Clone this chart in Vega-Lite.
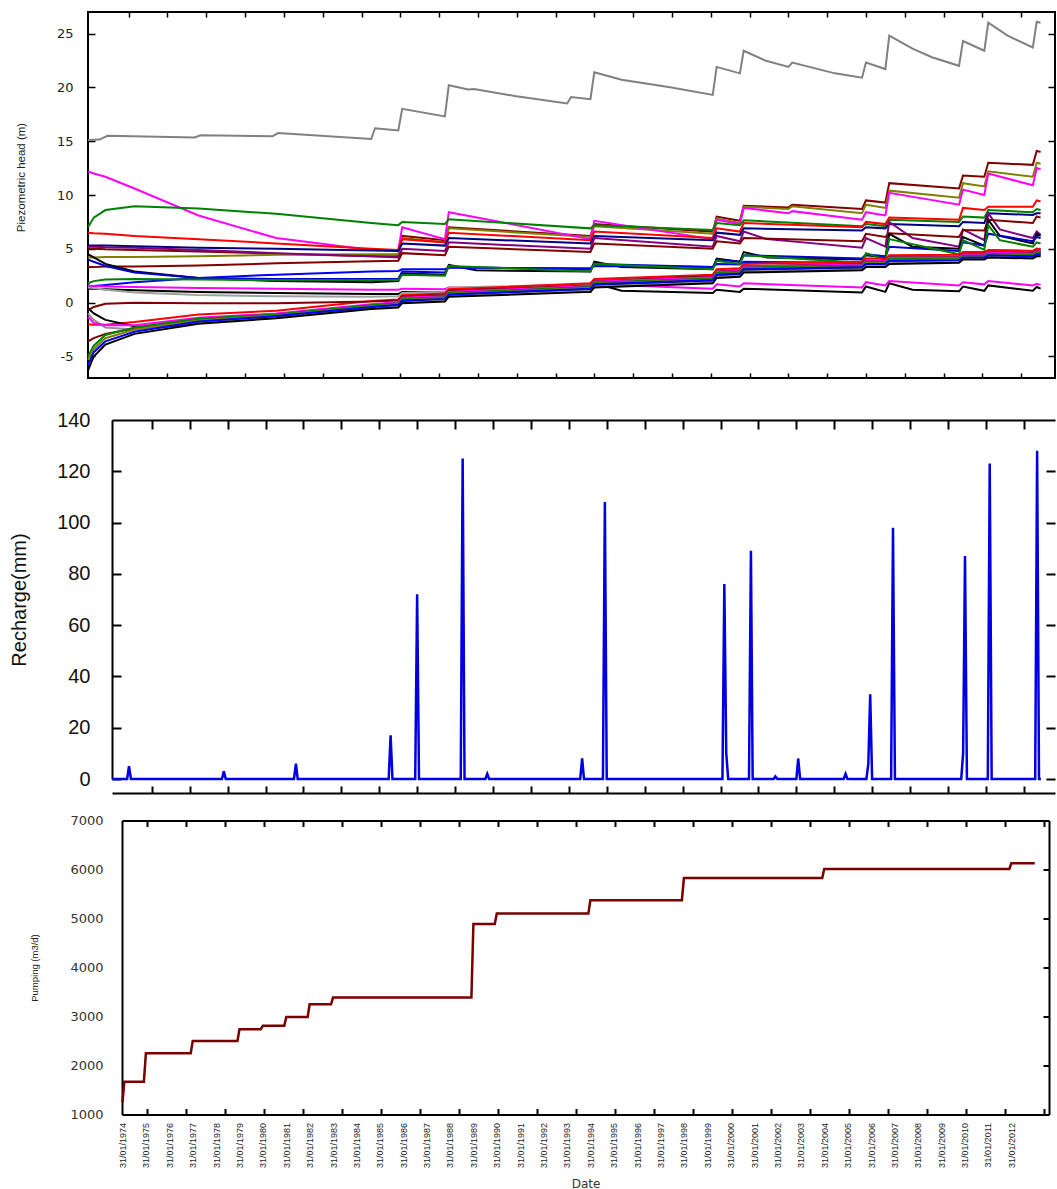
{
  "$schema": "https://vega.github.io/schema/vega-lite/v6.json",
  "background": "white",
  "padding": {"left": 9, "top": 11, "right": 0, "bottom": 0},
  "config": {
    "view": {"stroke": "#000", "strokeWidth": 2},
    "axis": {"domain": false, "ticks": false, "labelOverlap": false, "labelFlush": false}
  },
  "columns": 1,
  "spacing": 31,
  "concat": [
    {
      "width": 967,
      "height": 366,
      "data": {"values": [
        {"s":"G","d":"1974-01-01","v":15.1},{"s":"G","d":"1974-07-01","v":15.15},{"s":"G","d":"1974-11-01","v":15.5},{"s":"G","d":"1978-08-01","v":15.35},{"s":"G","d":"1978-11-01","v":15.55},{"s":"G","d":"1981-12-01","v":15.45},{"s":"G","d":"1982-03-01","v":15.75},{"s":"G","d":"1986-03-01","v":15.2},{"s":"G","d":"1986-05-01","v":16.2},{"s":"G","d":"1987-05-01","v":16.0},{"s":"G","d":"1987-07-01","v":18.0},{"s":"G","d":"1989-05-01","v":17.3},{"s":"G","d":"1989-07-01","v":20.2},{"s":"G","d":"1990-05-01","v":19.8},{"s":"G","d":"1990-08-01","v":19.85},{"s":"G","d":"1992-05-01","v":19.2},{"s":"G","d":"1994-08-01","v":18.5},{"s":"G","d":"1994-10-01","v":19.1},{"s":"G","d":"1995-08-01","v":18.9},{"s":"G","d":"1995-10-01","v":21.4},{"s":"G","d":"1996-12-01","v":20.7},{"s":"G","d":"1999-01-01","v":20.0},{"s":"G","d":"2000-11-01","v":19.3},{"s":"G","d":"2001-01-01","v":21.9},{"s":"G","d":"2002-01-01","v":21.3},{"s":"G","d":"2002-03-01","v":23.4},{"s":"G","d":"2003-02-01","v":22.5},{"s":"G","d":"2004-02-01","v":21.9},{"s":"G","d":"2004-04-01","v":22.3},{"s":"G","d":"2006-02-01","v":21.3},{"s":"G","d":"2007-04-01","v":20.9},{"s":"G","d":"2007-06-01","v":22.3},{"s":"G","d":"2008-04-01","v":21.7},{"s":"G","d":"2008-06-01","v":24.8},{"s":"G","d":"2009-06-01","v":23.6},{"s":"G","d":"2010-04-01","v":22.8},{"s":"G","d":"2011-06-01","v":22.0},{"s":"G","d":"2011-08-01","v":24.3},{"s":"G","d":"2012-07-01","v":23.4},{"s":"G","d":"2012-09-01","v":26.0},{"s":"G","d":"2013-07-01","v":24.8},{"s":"G","d":"2014-08-01","v":23.7},{"s":"G","d":"2014-10-01","v":26.1},{"s":"G","d":"2014-12-01","v":26.0},

        {"s":"DR1","d":"1974-01-01","v":5.0},{"s":"DR1","d":"1974-04-01","v":5.0},{"s":"DR1","d":"1974-10-01","v":4.95},{"s":"DR1","d":"1976-01-01","v":4.9},{"s":"DR1","d":"1978-10-01","v":4.75},{"s":"DR1","d":"1982-02-01","v":4.55},{"s":"DR1","d":"1986-03-01","v":4.3},{"s":"DR1","d":"1987-05-01","v":4.3},{"s":"DR1","d":"1987-07-01","v":6.2},{"s":"DR1","d":"1989-05-01","v":5.8},{"s":"DR1","d":"1989-07-01","v":7.0},{"s":"DR1","d":"1995-08-01","v":6.2},{"s":"DR1","d":"1995-10-01","v":7.3},{"s":"DR1","d":"2000-11-01","v":6.6},{"s":"DR1","d":"2001-01-01","v":8.0},{"s":"DR1","d":"2002-01-01","v":7.6},{"s":"DR1","d":"2002-03-01","v":9.0},{"s":"DR1","d":"2004-02-01","v":8.85},{"s":"DR1","d":"2004-04-01","v":9.1},{"s":"DR1","d":"2007-04-01","v":8.7},{"s":"DR1","d":"2007-06-01","v":9.5},{"s":"DR1","d":"2008-04-01","v":9.3},{"s":"DR1","d":"2008-06-01","v":11.1},{"s":"DR1","d":"2011-06-01","v":10.6},{"s":"DR1","d":"2011-08-01","v":11.8},{"s":"DR1","d":"2012-07-01","v":11.7},{"s":"DR1","d":"2012-09-01","v":13.0},{"s":"DR1","d":"2014-08-01","v":12.8},{"s":"DR1","d":"2014-10-01","v":14.1},{"s":"DR1","d":"2014-12-01","v":14.0},

        {"s":"OL","d":"1974-01-01","v":4.2},{"s":"OL","d":"1974-04-01","v":4.2},{"s":"OL","d":"1974-10-01","v":4.25},{"s":"OL","d":"1976-01-01","v":4.25},{"s":"OL","d":"1978-10-01","v":4.3},{"s":"OL","d":"1982-02-01","v":4.45},{"s":"OL","d":"1986-03-01","v":4.5},{"s":"OL","d":"1987-05-01","v":4.5},{"s":"OL","d":"1987-07-01","v":6.0},{"s":"OL","d":"1989-05-01","v":5.6},{"s":"OL","d":"1989-07-01","v":6.9},{"s":"OL","d":"1995-08-01","v":6.1},{"s":"OL","d":"1995-10-01","v":7.1},{"s":"OL","d":"2000-11-01","v":6.4},{"s":"OL","d":"2001-01-01","v":7.8},{"s":"OL","d":"2002-01-01","v":7.4},{"s":"OL","d":"2002-03-01","v":8.9},{"s":"OL","d":"2004-02-01","v":8.7},{"s":"OL","d":"2004-04-01","v":8.95},{"s":"OL","d":"2007-04-01","v":8.3},{"s":"OL","d":"2007-06-01","v":9.1},{"s":"OL","d":"2008-04-01","v":8.8},{"s":"OL","d":"2008-06-01","v":10.4},{"s":"OL","d":"2011-06-01","v":9.75},{"s":"OL","d":"2011-08-01","v":11.1},{"s":"OL","d":"2012-07-01","v":10.8},{"s":"OL","d":"2012-09-01","v":12.2},{"s":"OL","d":"2014-08-01","v":11.7},{"s":"OL","d":"2014-10-01","v":13.0},{"s":"OL","d":"2014-12-01","v":12.9},

        {"s":"MG","d":"1974-01-01","v":12.2},{"s":"MG","d":"1974-04-01","v":12.0},{"s":"MG","d":"1974-10-01","v":11.7},{"s":"MG","d":"1976-01-01","v":10.6},{"s":"MG","d":"1978-10-01","v":8.1},{"s":"MG","d":"1982-02-01","v":6.0},{"s":"MG","d":"1986-03-01","v":4.9},{"s":"MG","d":"1987-05-01","v":4.9},{"s":"MG","d":"1987-07-01","v":7.0},{"s":"MG","d":"1989-05-01","v":5.9},{"s":"MG","d":"1989-07-01","v":8.4},{"s":"MG","d":"1995-08-01","v":5.9},{"s":"MG","d":"1995-10-01","v":7.6},{"s":"MG","d":"2000-11-01","v":5.9},{"s":"MG","d":"2001-01-01","v":7.7},{"s":"MG","d":"2002-01-01","v":7.3},{"s":"MG","d":"2002-03-01","v":8.8},{"s":"MG","d":"2004-02-01","v":8.3},{"s":"MG","d":"2004-04-01","v":8.5},{"s":"MG","d":"2007-04-01","v":7.7},{"s":"MG","d":"2007-06-01","v":8.4},{"s":"MG","d":"2008-04-01","v":8.1},{"s":"MG","d":"2008-06-01","v":10.2},{"s":"MG","d":"2011-06-01","v":9.1},{"s":"MG","d":"2011-08-01","v":10.5},{"s":"MG","d":"2012-07-01","v":10.0},{"s":"MG","d":"2012-09-01","v":12.0},{"s":"MG","d":"2014-08-01","v":10.9},{"s":"MG","d":"2014-10-01","v":12.5},{"s":"MG","d":"2014-12-01","v":12.4},

        {"s":"GR1","d":"1974-01-01","v":7.0},{"s":"GR1","d":"1974-04-01","v":7.9},{"s":"GR1","d":"1974-10-01","v":8.6},{"s":"GR1","d":"1976-01-01","v":8.95},{"s":"GR1","d":"1978-10-01","v":8.75},{"s":"GR1","d":"1982-02-01","v":8.25},{"s":"GR1","d":"1986-03-01","v":7.4},{"s":"GR1","d":"1987-05-01","v":7.2},{"s":"GR1","d":"1987-07-01","v":7.5},{"s":"GR1","d":"1989-05-01","v":7.3},{"s":"GR1","d":"1989-07-01","v":7.75},{"s":"GR1","d":"1995-08-01","v":6.9},{"s":"GR1","d":"1995-10-01","v":7.2},{"s":"GR1","d":"2000-11-01","v":6.75},{"s":"GR1","d":"2001-01-01","v":7.4},{"s":"GR1","d":"2002-01-01","v":7.2},{"s":"GR1","d":"2002-03-01","v":7.65},{"s":"GR1","d":"2007-04-01","v":7.1},{"s":"GR1","d":"2007-06-01","v":7.3},{"s":"GR1","d":"2008-04-01","v":7.1},{"s":"GR1","d":"2008-06-01","v":7.7},{"s":"GR1","d":"2011-06-01","v":7.5},{"s":"GR1","d":"2011-08-01","v":8.0},{"s":"GR1","d":"2012-07-01","v":7.9},{"s":"GR1","d":"2012-09-01","v":8.6},{"s":"GR1","d":"2014-08-01","v":8.4},{"s":"GR1","d":"2014-10-01","v":8.7},{"s":"GR1","d":"2014-12-01","v":8.6},

        {"s":"RD1","d":"1974-01-01","v":6.5},{"s":"RD1","d":"1974-04-01","v":6.45},{"s":"RD1","d":"1974-10-01","v":6.4},{"s":"RD1","d":"1976-01-01","v":6.2},{"s":"RD1","d":"1978-10-01","v":5.9},{"s":"RD1","d":"1982-02-01","v":5.5},{"s":"RD1","d":"1986-03-01","v":5.0},{"s":"RD1","d":"1987-05-01","v":4.9},{"s":"RD1","d":"1987-07-01","v":5.9},{"s":"RD1","d":"1989-05-01","v":5.6},{"s":"RD1","d":"1989-07-01","v":6.5},{"s":"RD1","d":"1995-08-01","v":5.8},{"s":"RD1","d":"1995-10-01","v":6.6},{"s":"RD1","d":"2000-11-01","v":6.0},{"s":"RD1","d":"2001-01-01","v":6.9},{"s":"RD1","d":"2002-01-01","v":6.6},{"s":"RD1","d":"2002-03-01","v":7.4},{"s":"RD1","d":"2007-04-01","v":7.0},{"s":"RD1","d":"2007-06-01","v":7.5},{"s":"RD1","d":"2008-04-01","v":7.3},{"s":"RD1","d":"2008-06-01","v":7.9},{"s":"RD1","d":"2011-06-01","v":7.7},{"s":"RD1","d":"2011-08-01","v":8.8},{"s":"RD1","d":"2012-07-01","v":8.6},{"s":"RD1","d":"2012-09-01","v":8.9},{"s":"RD1","d":"2014-08-01","v":8.9},{"s":"RD1","d":"2014-10-01","v":9.5},{"s":"RD1","d":"2014-12-01","v":9.4},

        {"s":"NV","d":"1974-01-01","v":5.3},{"s":"NV","d":"1974-04-01","v":5.3},{"s":"NV","d":"1974-10-01","v":5.3},{"s":"NV","d":"1976-01-01","v":5.25},{"s":"NV","d":"1978-10-01","v":5.1},{"s":"NV","d":"1982-02-01","v":5.0},{"s":"NV","d":"1986-03-01","v":4.85},{"s":"NV","d":"1987-05-01","v":4.8},{"s":"NV","d":"1987-07-01","v":5.5},{"s":"NV","d":"1989-05-01","v":5.3},{"s":"NV","d":"1989-07-01","v":6.0},{"s":"NV","d":"1995-08-01","v":5.5},{"s":"NV","d":"1995-10-01","v":6.2},{"s":"NV","d":"2000-11-01","v":5.8},{"s":"NV","d":"2001-01-01","v":6.5},{"s":"NV","d":"2002-01-01","v":6.3},{"s":"NV","d":"2002-03-01","v":6.9},{"s":"NV","d":"2007-04-01","v":6.7},{"s":"NV","d":"2007-06-01","v":7.0},{"s":"NV","d":"2008-04-01","v":6.9},{"s":"NV","d":"2008-06-01","v":7.3},{"s":"NV","d":"2011-06-01","v":7.1},{"s":"NV","d":"2011-08-01","v":7.5},{"s":"NV","d":"2012-07-01","v":7.4},{"s":"NV","d":"2012-09-01","v":8.3},{"s":"NV","d":"2014-08-01","v":8.15},{"s":"NV","d":"2014-10-01","v":8.3},{"s":"NV","d":"2014-12-01","v":8.3},

        {"s":"PU","d":"1974-01-01","v":5.2},{"s":"PU","d":"1974-04-01","v":5.2},{"s":"PU","d":"1974-10-01","v":5.15},{"s":"PU","d":"1976-01-01","v":5.1},{"s":"PU","d":"1978-10-01","v":4.9},{"s":"PU","d":"1982-02-01","v":4.6},{"s":"PU","d":"1986-03-01","v":4.3},{"s":"PU","d":"1987-05-01","v":4.2},{"s":"PU","d":"1987-07-01","v":5.0},{"s":"PU","d":"1989-05-01","v":4.8},{"s":"PU","d":"1989-07-01","v":5.6},{"s":"PU","d":"1995-08-01","v":5.0},{"s":"PU","d":"1995-10-01","v":6.0},{"s":"PU","d":"2000-11-01","v":5.2},{"s":"PU","d":"2001-01-01","v":6.2},{"s":"PU","d":"2002-01-01","v":5.7},{"s":"PU","d":"2002-03-01","v":6.6},{"s":"PU","d":"2003-03-01","v":5.9},{"s":"PU","d":"2007-04-01","v":5.1},{"s":"PU","d":"2007-06-01","v":6.0},{"s":"PU","d":"2008-04-01","v":5.2},{"s":"PU","d":"2008-06-01","v":7.5},{"s":"PU","d":"2009-06-01","v":6.0},{"s":"PU","d":"2011-06-01","v":5.2},{"s":"PU","d":"2011-08-01","v":6.8},{"s":"PU","d":"2012-07-01","v":5.8},{"s":"PU","d":"2012-09-01","v":8.3},{"s":"PU","d":"2013-03-01","v":6.8},{"s":"PU","d":"2014-08-01","v":6.0},{"s":"PU","d":"2014-10-01","v":6.6},{"s":"PU","d":"2014-12-01","v":6.3},

        {"s":"DR2","d":"1974-01-01","v":3.3},{"s":"DR2","d":"1974-04-01","v":3.3},{"s":"DR2","d":"1974-10-01","v":3.35},{"s":"DR2","d":"1976-01-01","v":3.35},{"s":"DR2","d":"1978-10-01","v":3.45},{"s":"DR2","d":"1982-02-01","v":3.65},{"s":"DR2","d":"1986-03-01","v":3.85},{"s":"DR2","d":"1987-05-01","v":3.9},{"s":"DR2","d":"1987-07-01","v":4.6},{"s":"DR2","d":"1989-05-01","v":4.4},{"s":"DR2","d":"1989-07-01","v":5.2},{"s":"DR2","d":"1995-08-01","v":4.7},{"s":"DR2","d":"1995-10-01","v":5.5},{"s":"DR2","d":"2000-11-01","v":5.0},{"s":"DR2","d":"2001-01-01","v":5.7},{"s":"DR2","d":"2002-01-01","v":5.5},{"s":"DR2","d":"2002-03-01","v":6.0},{"s":"DR2","d":"2007-04-01","v":5.7},{"s":"DR2","d":"2007-06-01","v":6.4},{"s":"DR2","d":"2008-04-01","v":6.1},{"s":"DR2","d":"2008-06-01","v":6.45},{"s":"DR2","d":"2011-06-01","v":6.1},{"s":"DR2","d":"2011-08-01","v":6.75},{"s":"DR2","d":"2012-07-01","v":6.7},{"s":"DR2","d":"2012-09-01","v":7.7},{"s":"DR2","d":"2014-08-01","v":7.4},{"s":"DR2","d":"2014-10-01","v":8.0},{"s":"DR2","d":"2014-12-01","v":7.9},

        {"s":"BK1","d":"1974-01-01","v":4.5},{"s":"BK1","d":"1974-04-01","v":4.2},{"s":"BK1","d":"1974-10-01","v":3.6},{"s":"BK1","d":"1976-01-01","v":2.9},{"s":"BK1","d":"1978-10-01","v":2.3},{"s":"BK1","d":"1982-02-01","v":2.0},{"s":"BK1","d":"1986-03-01","v":1.9},{"s":"BK1","d":"1987-05-01","v":2.0},{"s":"BK1","d":"1987-07-01","v":2.7},{"s":"BK1","d":"1989-05-01","v":2.6},{"s":"BK1","d":"1989-07-01","v":3.5},{"s":"BK1","d":"1990-09-01","v":3.0},{"s":"BK1","d":"1995-08-01","v":2.9},{"s":"BK1","d":"1995-10-01","v":3.8},{"s":"BK1","d":"1996-12-01","v":3.3},{"s":"BK1","d":"2000-11-01","v":3.1},{"s":"BK1","d":"2001-01-01","v":4.1},{"s":"BK1","d":"2002-01-01","v":3.8},{"s":"BK1","d":"2002-03-01","v":4.7},{"s":"BK1","d":"2003-03-01","v":4.2},{"s":"BK1","d":"2007-04-01","v":4.0},{"s":"BK1","d":"2007-06-01","v":4.4},{"s":"BK1","d":"2008-04-01","v":4.2},{"s":"BK1","d":"2008-06-01","v":6.4},{"s":"BK1","d":"2009-06-01","v":5.2},{"s":"BK1","d":"2011-06-01","v":5.0},{"s":"BK1","d":"2011-08-01","v":6.1},{"s":"BK1","d":"2012-07-01","v":5.3},{"s":"BK1","d":"2012-09-01","v":7.7},{"s":"BK1","d":"2013-03-01","v":6.2},{"s":"BK1","d":"2014-08-01","v":5.5},{"s":"BK1","d":"2014-10-01","v":6.4},{"s":"BK1","d":"2014-12-01","v":6.2},

        {"s":"BL1","d":"1974-01-01","v":4.0},{"s":"BL1","d":"1974-04-01","v":3.8},{"s":"BL1","d":"1974-10-01","v":3.4},{"s":"BL1","d":"1976-01-01","v":2.8},{"s":"BL1","d":"1978-10-01","v":2.3},{"s":"BL1","d":"1982-02-01","v":2.2},{"s":"BL1","d":"1986-03-01","v":2.2},{"s":"BL1","d":"1987-05-01","v":2.2},{"s":"BL1","d":"1987-07-01","v":2.9},{"s":"BL1","d":"1989-05-01","v":2.8},{"s":"BL1","d":"1989-07-01","v":3.3},{"s":"BL1","d":"1995-08-01","v":3.1},{"s":"BL1","d":"1995-10-01","v":3.6},{"s":"BL1","d":"2000-11-01","v":3.3},{"s":"BL1","d":"2001-01-01","v":4.0},{"s":"BL1","d":"2002-01-01","v":3.8},{"s":"BL1","d":"2002-03-01","v":4.4},{"s":"BL1","d":"2007-04-01","v":4.1},{"s":"BL1","d":"2007-06-01","v":4.5},{"s":"BL1","d":"2008-04-01","v":4.3},{"s":"BL1","d":"2008-06-01","v":5.2},{"s":"BL1","d":"2011-06-01","v":4.8},{"s":"BL1","d":"2011-08-01","v":5.6},{"s":"BL1","d":"2012-07-01","v":5.3},{"s":"BL1","d":"2012-09-01","v":6.4},{"s":"BL1","d":"2014-08-01","v":5.7},{"s":"BL1","d":"2014-10-01","v":6.1},{"s":"BL1","d":"2014-12-01","v":6.0},

        {"s":"BL2","d":"1974-01-01","v":1.5},{"s":"BL2","d":"1974-04-01","v":1.55},{"s":"BL2","d":"1974-10-01","v":1.65},{"s":"BL2","d":"1976-01-01","v":1.9},{"s":"BL2","d":"1978-10-01","v":2.3},{"s":"BL2","d":"1982-02-01","v":2.6},{"s":"BL2","d":"1986-03-01","v":2.9},{"s":"BL2","d":"1987-05-01","v":2.95},{"s":"BL2","d":"1987-07-01","v":3.1},{"s":"BL2","d":"1989-05-01","v":3.1},{"s":"BL2","d":"1989-07-01","v":3.25},{"s":"BL2","d":"1995-08-01","v":3.2},{"s":"BL2","d":"1995-10-01","v":3.4},{"s":"BL2","d":"2000-11-01","v":3.3},{"s":"BL2","d":"2001-01-01","v":3.6},{"s":"BL2","d":"2002-01-01","v":3.55},{"s":"BL2","d":"2002-03-01","v":3.8},{"s":"BL2","d":"2007-04-01","v":3.7},{"s":"BL2","d":"2007-06-01","v":3.9},{"s":"BL2","d":"2008-04-01","v":3.85},{"s":"BL2","d":"2008-06-01","v":4.3},{"s":"BL2","d":"2011-06-01","v":4.25},{"s":"BL2","d":"2011-08-01","v":4.5},{"s":"BL2","d":"2012-07-01","v":4.45},{"s":"BL2","d":"2012-09-01","v":4.8},{"s":"BL2","d":"2014-08-01","v":4.7},{"s":"BL2","d":"2014-10-01","v":5.0},{"s":"BL2","d":"2014-12-01","v":4.95},

        {"s":"GR2","d":"1974-01-01","v":1.8},{"s":"GR2","d":"1974-04-01","v":2.0},{"s":"GR2","d":"1974-10-01","v":2.15},{"s":"GR2","d":"1976-01-01","v":2.2},{"s":"GR2","d":"1978-10-01","v":2.15},{"s":"GR2","d":"1982-02-01","v":2.1},{"s":"GR2","d":"1986-03-01","v":2.1},{"s":"GR2","d":"1987-05-01","v":2.1},{"s":"GR2","d":"1987-07-01","v":2.6},{"s":"GR2","d":"1989-05-01","v":2.5},{"s":"GR2","d":"1989-07-01","v":3.4},{"s":"GR2","d":"1995-08-01","v":2.9},{"s":"GR2","d":"1995-10-01","v":3.6},{"s":"GR2","d":"2000-11-01","v":3.1},{"s":"GR2","d":"2001-01-01","v":3.9},{"s":"GR2","d":"2002-01-01","v":3.6},{"s":"GR2","d":"2002-03-01","v":4.4},{"s":"GR2","d":"2007-04-01","v":3.7},{"s":"GR2","d":"2007-06-01","v":4.6},{"s":"GR2","d":"2008-04-01","v":4.0},{"s":"GR2","d":"2008-06-01","v":5.9},{"s":"GR2","d":"2011-06-01","v":4.5},{"s":"GR2","d":"2011-08-01","v":5.8},{"s":"GR2","d":"2012-07-01","v":4.9},{"s":"GR2","d":"2012-09-01","v":7.2},{"s":"GR2","d":"2013-03-01","v":5.8},{"s":"GR2","d":"2014-08-01","v":5.2},{"s":"GR2","d":"2014-10-01","v":5.6},{"s":"GR2","d":"2014-12-01","v":5.5},

        {"s":"BK2","d":"1974-01-01","v":1.3},{"s":"BK2","d":"1974-04-01","v":1.3},{"s":"BK2","d":"1974-10-01","v":1.25},{"s":"BK2","d":"1976-01-01","v":1.15},{"s":"BK2","d":"1978-10-01","v":1.0},{"s":"BK2","d":"1982-02-01","v":0.9},{"s":"BK2","d":"1986-03-01","v":0.8},{"s":"BK2","d":"1987-05-01","v":0.8},{"s":"BK2","d":"1987-07-01","v":1.0},{"s":"BK2","d":"1989-05-01","v":0.95},{"s":"BK2","d":"1989-07-01","v":1.2},{"s":"BK2","d":"1995-08-01","v":1.0},{"s":"BK2","d":"1995-10-01","v":1.8},{"s":"BK2","d":"1996-12-01","v":1.1},{"s":"BK2","d":"2000-11-01","v":0.9},{"s":"BK2","d":"2001-01-01","v":1.2},{"s":"BK2","d":"2002-01-01","v":1.0},{"s":"BK2","d":"2002-03-01","v":1.3},{"s":"BK2","d":"2007-04-01","v":0.95},{"s":"BK2","d":"2007-06-01","v":1.5},{"s":"BK2","d":"2008-04-01","v":1.0},{"s":"BK2","d":"2008-06-01","v":1.8},{"s":"BK2","d":"2009-06-01","v":1.2},{"s":"BK2","d":"2011-06-01","v":1.05},{"s":"BK2","d":"2011-08-01","v":1.5},{"s":"BK2","d":"2012-07-01","v":1.1},{"s":"BK2","d":"2012-09-01","v":1.6},{"s":"BK2","d":"2014-08-01","v":1.1},{"s":"BK2","d":"2014-10-01","v":1.45},{"s":"BK2","d":"2014-12-01","v":1.3},

        {"s":"MG2","d":"1974-01-01","v":1.6},{"s":"MG2","d":"1974-04-01","v":1.55},{"s":"MG2","d":"1974-10-01","v":1.5},{"s":"MG2","d":"1976-01-01","v":1.45},{"s":"MG2","d":"1978-10-01","v":1.35},{"s":"MG2","d":"1982-02-01","v":1.3},{"s":"MG2","d":"1986-03-01","v":1.2},{"s":"MG2","d":"1987-05-01","v":1.2},{"s":"MG2","d":"1987-07-01","v":1.3},{"s":"MG2","d":"1989-05-01","v":1.25},{"s":"MG2","d":"1989-07-01","v":1.4},{"s":"MG2","d":"1995-08-01","v":1.25},{"s":"MG2","d":"1995-10-01","v":1.7},{"s":"MG2","d":"2000-11-01","v":1.3},{"s":"MG2","d":"2001-01-01","v":1.7},{"s":"MG2","d":"2002-01-01","v":1.5},{"s":"MG2","d":"2002-03-01","v":1.8},{"s":"MG2","d":"2007-04-01","v":1.4},{"s":"MG2","d":"2007-06-01","v":1.9},{"s":"MG2","d":"2008-04-01","v":1.6},{"s":"MG2","d":"2008-06-01","v":2.0},{"s":"MG2","d":"2011-06-01","v":1.6},{"s":"MG2","d":"2011-08-01","v":1.9},{"s":"MG2","d":"2012-07-01","v":1.7},{"s":"MG2","d":"2012-09-01","v":2.0},{"s":"MG2","d":"2014-08-01","v":1.6},{"s":"MG2","d":"2014-10-01","v":1.75},{"s":"MG2","d":"2014-12-01","v":1.65},

        {"s":"GY2","d":"1974-01-01","v":1.4},{"s":"GY2","d":"1974-04-01","v":1.35},{"s":"GY2","d":"1974-10-01","v":1.2},{"s":"GY2","d":"1976-01-01","v":0.95},{"s":"GY2","d":"1978-10-01","v":0.7},{"s":"GY2","d":"1982-02-01","v":0.6},{"s":"GY2","d":"1986-03-01","v":0.55},{"s":"GY2","d":"1987-05-01","v":0.6},{"s":"GY2","d":"1987-07-01","v":0.9},{"s":"GY2","d":"1989-05-01","v":1.0},{"s":"GY2","d":"1989-07-01","v":1.4},{"s":"GY2","d":"1995-08-01","v":1.7},{"s":"GY2","d":"1995-10-01","v":2.1},{"s":"GY2","d":"2000-11-01","v":2.5},{"s":"GY2","d":"2001-01-01","v":2.9},{"s":"GY2","d":"2002-01-01","v":3.0},{"s":"GY2","d":"2002-03-01","v":3.3},{"s":"GY2","d":"2007-04-01","v":3.5},{"s":"GY2","d":"2007-06-01","v":3.8},{"s":"GY2","d":"2008-04-01","v":3.8},{"s":"GY2","d":"2008-06-01","v":4.2},{"s":"GY2","d":"2011-06-01","v":4.3},{"s":"GY2","d":"2011-08-01","v":4.6},{"s":"GY2","d":"2012-07-01","v":4.6},{"s":"GY2","d":"2012-09-01","v":4.9},{"s":"GY2","d":"2014-08-01","v":4.8},{"s":"GY2","d":"2014-10-01","v":5.0},{"s":"GY2","d":"2014-12-01","v":5.0},

        {"s":"RD2","d":"1974-01-01","v":-2.0},{"s":"RD2","d":"1974-04-01","v":-2.05},{"s":"RD2","d":"1974-10-01","v":-2.05},{"s":"RD2","d":"1976-01-01","v":-1.8},{"s":"RD2","d":"1978-10-01","v":-1.1},{"s":"RD2","d":"1982-02-01","v":-0.75},{"s":"RD2","d":"1986-03-01","v":0.15},{"s":"RD2","d":"1987-05-01","v":0.3},{"s":"RD2","d":"1987-07-01","v":0.7},{"s":"RD2","d":"1989-05-01","v":0.85},{"s":"RD2","d":"1989-07-01","v":1.25},{"s":"RD2","d":"1995-08-01","v":1.8},{"s":"RD2","d":"1995-10-01","v":2.2},{"s":"RD2","d":"2000-11-01","v":2.6},{"s":"RD2","d":"2001-01-01","v":3.1},{"s":"RD2","d":"2002-01-01","v":3.2},{"s":"RD2","d":"2002-03-01","v":3.6},{"s":"RD2","d":"2007-04-01","v":3.8},{"s":"RD2","d":"2007-06-01","v":4.1},{"s":"RD2","d":"2008-04-01","v":4.1},{"s":"RD2","d":"2008-06-01","v":4.4},{"s":"RD2","d":"2011-06-01","v":4.45},{"s":"RD2","d":"2011-08-01","v":4.7},{"s":"RD2","d":"2012-07-01","v":4.7},{"s":"RD2","d":"2012-09-01","v":4.9},{"s":"RD2","d":"2014-08-01","v":4.8},{"s":"RD2","d":"2014-10-01","v":5.0},{"s":"RD2","d":"2014-12-01","v":4.95},

        {"s":"DR3","d":"1974-01-01","v":-0.7},{"s":"DR3","d":"1974-04-01","v":-0.4},{"s":"DR3","d":"1974-10-01","v":-0.1},{"s":"DR3","d":"1976-01-01","v":0.0},{"s":"DR3","d":"1978-10-01","v":-0.05},{"s":"DR3","d":"1982-02-01","v":-0.05},{"s":"DR3","d":"1986-03-01","v":0.1},{"s":"DR3","d":"1987-05-01","v":0.2},{"s":"DR3","d":"1987-07-01","v":0.6},{"s":"DR3","d":"1989-05-01","v":0.7},{"s":"DR3","d":"1989-07-01","v":1.1},{"s":"DR3","d":"1995-08-01","v":1.6},{"s":"DR3","d":"1995-10-01","v":2.0},{"s":"DR3","d":"2000-11-01","v":2.45},{"s":"DR3","d":"2001-01-01","v":2.9},{"s":"DR3","d":"2002-01-01","v":3.0},{"s":"DR3","d":"2002-03-01","v":3.4},{"s":"DR3","d":"2007-04-01","v":3.6},{"s":"DR3","d":"2007-06-01","v":3.9},{"s":"DR3","d":"2008-04-01","v":3.9},{"s":"DR3","d":"2008-06-01","v":4.2},{"s":"DR3","d":"2011-06-01","v":4.25},{"s":"DR3","d":"2011-08-01","v":4.5},{"s":"DR3","d":"2012-07-01","v":4.5},{"s":"DR3","d":"2012-09-01","v":4.7},{"s":"DR3","d":"2014-08-01","v":4.6},{"s":"DR3","d":"2014-10-01","v":4.8},{"s":"DR3","d":"2014-12-01","v":4.8},

        {"s":"BK3","d":"1974-01-01","v":-0.5},{"s":"BK3","d":"1974-04-01","v":-1.0},{"s":"BK3","d":"1974-10-01","v":-1.6},{"s":"BK3","d":"1976-01-01","v":-2.2},{"s":"BK3","d":"1977-01-01","v":-2.3},{"s":"BK3","d":"1978-10-01","v":-1.9},{"s":"BK3","d":"1982-02-01","v":-1.35},{"s":"BK3","d":"1986-03-01","v":-0.5},{"s":"BK3","d":"1987-05-01","v":-0.3},{"s":"BK3","d":"1987-07-01","v":0.1},{"s":"BK3","d":"1989-05-01","v":0.25},{"s":"BK3","d":"1989-07-01","v":0.7},{"s":"BK3","d":"1995-08-01","v":1.2},{"s":"BK3","d":"1995-10-01","v":1.6},{"s":"BK3","d":"2000-11-01","v":2.0},{"s":"BK3","d":"2001-01-01","v":2.5},{"s":"BK3","d":"2002-01-01","v":2.6},{"s":"BK3","d":"2002-03-01","v":3.0},{"s":"BK3","d":"2007-04-01","v":3.2},{"s":"BK3","d":"2007-06-01","v":3.5},{"s":"BK3","d":"2008-04-01","v":3.5},{"s":"BK3","d":"2008-06-01","v":3.8},{"s":"BK3","d":"2011-06-01","v":3.9},{"s":"BK3","d":"2011-08-01","v":4.2},{"s":"BK3","d":"2012-07-01","v":4.2},{"s":"BK3","d":"2012-09-01","v":4.4},{"s":"BK3","d":"2014-08-01","v":4.3},{"s":"BK3","d":"2014-10-01","v":4.5},{"s":"BK3","d":"2014-12-01","v":4.5},

        {"s":"GY3","d":"1974-01-01","v":-1.0},{"s":"GY3","d":"1974-04-01","v":-1.6},{"s":"GY3","d":"1974-10-01","v":-2.3},{"s":"GY3","d":"1976-01-01","v":-2.5},{"s":"GY3","d":"1978-10-01","v":-1.85},{"s":"GY3","d":"1982-02-01","v":-1.4},{"s":"GY3","d":"1986-03-01","v":-0.55},{"s":"GY3","d":"1987-05-01","v":-0.35},{"s":"GY3","d":"1987-07-01","v":0.0},{"s":"GY3","d":"1989-05-01","v":0.2},{"s":"GY3","d":"1989-07-01","v":0.6},{"s":"GY3","d":"1995-08-01","v":1.1},{"s":"GY3","d":"1995-10-01","v":1.5},{"s":"GY3","d":"2000-11-01","v":1.9},{"s":"GY3","d":"2001-01-01","v":2.4},{"s":"GY3","d":"2002-01-01","v":2.5},{"s":"GY3","d":"2002-03-01","v":2.9},{"s":"GY3","d":"2007-04-01","v":3.1},{"s":"GY3","d":"2007-06-01","v":3.4},{"s":"GY3","d":"2008-04-01","v":3.4},{"s":"GY3","d":"2008-06-01","v":3.7},{"s":"GY3","d":"2011-06-01","v":3.8},{"s":"GY3","d":"2011-08-01","v":4.1},{"s":"GY3","d":"2012-07-01","v":4.1},{"s":"GY3","d":"2012-09-01","v":4.3},{"s":"GY3","d":"2014-08-01","v":4.2},{"s":"GY3","d":"2014-10-01","v":4.4},{"s":"GY3","d":"2014-12-01","v":4.4},

        {"s":"MG3","d":"1974-01-01","v":-1.3},{"s":"MG3","d":"1974-04-01","v":-1.9},{"s":"MG3","d":"1974-10-01","v":-2.1},{"s":"MG3","d":"1976-01-01","v":-2.1},{"s":"MG3","d":"1978-10-01","v":-1.4},{"s":"MG3","d":"1982-02-01","v":-1.0},{"s":"MG3","d":"1986-03-01","v":-0.15},{"s":"MG3","d":"1987-05-01","v":0.05},{"s":"MG3","d":"1987-07-01","v":0.45},{"s":"MG3","d":"1989-05-01","v":0.6},{"s":"MG3","d":"1989-07-01","v":1.0},{"s":"MG3","d":"1995-08-01","v":1.55},{"s":"MG3","d":"1995-10-01","v":1.95},{"s":"MG3","d":"2000-11-01","v":2.35},{"s":"MG3","d":"2001-01-01","v":2.85},{"s":"MG3","d":"2002-01-01","v":2.95},{"s":"MG3","d":"2002-03-01","v":3.35},{"s":"MG3","d":"2007-04-01","v":3.55},{"s":"MG3","d":"2007-06-01","v":3.85},{"s":"MG3","d":"2008-04-01","v":3.85},{"s":"MG3","d":"2008-06-01","v":4.15},{"s":"MG3","d":"2011-06-01","v":4.2},{"s":"MG3","d":"2011-08-01","v":4.45},{"s":"MG3","d":"2012-07-01","v":4.45},{"s":"MG3","d":"2012-09-01","v":4.65},{"s":"MG3","d":"2014-08-01","v":4.55},{"s":"MG3","d":"2014-10-01","v":4.75},{"s":"MG3","d":"2014-12-01","v":4.75},

        {"s":"PU2","d":"1974-01-01","v":-3.6},{"s":"PU2","d":"1974-04-01","v":-3.3},{"s":"PU2","d":"1974-10-01","v":-2.9},{"s":"PU2","d":"1976-01-01","v":-2.4},{"s":"PU2","d":"1978-10-01","v":-1.6},{"s":"PU2","d":"1982-02-01","v":-1.15},{"s":"PU2","d":"1986-03-01","v":-0.3},{"s":"PU2","d":"1987-05-01","v":-0.1},{"s":"PU2","d":"1987-07-01","v":0.3},{"s":"PU2","d":"1989-05-01","v":0.45},{"s":"PU2","d":"1989-07-01","v":0.85},{"s":"PU2","d":"1995-08-01","v":1.4},{"s":"PU2","d":"1995-10-01","v":1.8},{"s":"PU2","d":"2000-11-01","v":2.2},{"s":"PU2","d":"2001-01-01","v":2.7},{"s":"PU2","d":"2002-01-01","v":2.8},{"s":"PU2","d":"2002-03-01","v":3.2},{"s":"PU2","d":"2007-04-01","v":3.4},{"s":"PU2","d":"2007-06-01","v":3.7},{"s":"PU2","d":"2008-04-01","v":3.7},{"s":"PU2","d":"2008-06-01","v":4.0},{"s":"PU2","d":"2011-06-01","v":4.05},{"s":"PU2","d":"2011-08-01","v":4.3},{"s":"PU2","d":"2012-07-01","v":4.3},{"s":"PU2","d":"2012-09-01","v":4.5},{"s":"PU2","d":"2014-08-01","v":4.4},{"s":"PU2","d":"2014-10-01","v":4.6},{"s":"PU2","d":"2014-12-01","v":4.6},

        {"s":"GR3","d":"1974-01-01","v":-5.0},{"s":"GR3","d":"1974-04-01","v":-4.0},{"s":"GR3","d":"1974-10-01","v":-3.0},{"s":"GR3","d":"1976-01-01","v":-2.3},{"s":"GR3","d":"1978-10-01","v":-1.5},{"s":"GR3","d":"1982-02-01","v":-1.1},{"s":"GR3","d":"1986-03-01","v":-0.25},{"s":"GR3","d":"1987-05-01","v":-0.05},{"s":"GR3","d":"1987-07-01","v":0.35},{"s":"GR3","d":"1989-05-01","v":0.5},{"s":"GR3","d":"1989-07-01","v":0.9},{"s":"GR3","d":"1995-08-01","v":1.45},{"s":"GR3","d":"1995-10-01","v":1.85},{"s":"GR3","d":"2000-11-01","v":2.25},{"s":"GR3","d":"2001-01-01","v":2.75},{"s":"GR3","d":"2002-01-01","v":2.85},{"s":"GR3","d":"2002-03-01","v":3.25},{"s":"GR3","d":"2007-04-01","v":3.45},{"s":"GR3","d":"2007-06-01","v":3.75},{"s":"GR3","d":"2008-04-01","v":3.75},{"s":"GR3","d":"2008-06-01","v":4.05},{"s":"GR3","d":"2011-06-01","v":4.1},{"s":"GR3","d":"2011-08-01","v":4.35},{"s":"GR3","d":"2012-07-01","v":4.35},{"s":"GR3","d":"2012-09-01","v":4.55},{"s":"GR3","d":"2014-08-01","v":4.45},{"s":"GR3","d":"2014-10-01","v":4.65},{"s":"GR3","d":"2014-12-01","v":4.65},

        {"s":"OL2","d":"1974-01-01","v":-5.3},{"s":"OL2","d":"1974-04-01","v":-4.3},{"s":"OL2","d":"1974-10-01","v":-3.3},{"s":"OL2","d":"1976-01-01","v":-2.5},{"s":"OL2","d":"1978-10-01","v":-1.65},{"s":"OL2","d":"1982-02-01","v":-1.2},{"s":"OL2","d":"1986-03-01","v":-0.35},{"s":"OL2","d":"1987-05-01","v":-0.15},{"s":"OL2","d":"1987-07-01","v":0.25},{"s":"OL2","d":"1989-05-01","v":0.4},{"s":"OL2","d":"1989-07-01","v":0.8},{"s":"OL2","d":"1995-08-01","v":1.35},{"s":"OL2","d":"1995-10-01","v":1.75},{"s":"OL2","d":"2000-11-01","v":2.15},{"s":"OL2","d":"2001-01-01","v":2.65},{"s":"OL2","d":"2002-01-01","v":2.75},{"s":"OL2","d":"2002-03-01","v":3.15},{"s":"OL2","d":"2007-04-01","v":3.35},{"s":"OL2","d":"2007-06-01","v":3.65},{"s":"OL2","d":"2008-04-01","v":3.65},{"s":"OL2","d":"2008-06-01","v":3.95},{"s":"OL2","d":"2011-06-01","v":4.0},{"s":"OL2","d":"2011-08-01","v":4.25},{"s":"OL2","d":"2012-07-01","v":4.25},{"s":"OL2","d":"2012-09-01","v":4.45},{"s":"OL2","d":"2014-08-01","v":4.35},{"s":"OL2","d":"2014-10-01","v":4.55},{"s":"OL2","d":"2014-12-01","v":4.55},

        {"s":"BL3","d":"1974-01-01","v":-5.8},{"s":"BL3","d":"1974-04-01","v":-4.6},{"s":"BL3","d":"1974-10-01","v":-3.6},{"s":"BL3","d":"1976-01-01","v":-2.7},{"s":"BL3","d":"1978-10-01","v":-1.75},{"s":"BL3","d":"1982-02-01","v":-1.25},{"s":"BL3","d":"1986-03-01","v":-0.4},{"s":"BL3","d":"1987-05-01","v":-0.2},{"s":"BL3","d":"1987-07-01","v":0.2},{"s":"BL3","d":"1989-05-01","v":0.35},{"s":"BL3","d":"1989-07-01","v":0.75},{"s":"BL3","d":"1995-08-01","v":1.3},{"s":"BL3","d":"1995-10-01","v":1.7},{"s":"BL3","d":"2000-11-01","v":2.1},{"s":"BL3","d":"2001-01-01","v":2.6},{"s":"BL3","d":"2002-01-01","v":2.7},{"s":"BL3","d":"2002-03-01","v":3.1},{"s":"BL3","d":"2007-04-01","v":3.3},{"s":"BL3","d":"2007-06-01","v":3.6},{"s":"BL3","d":"2008-04-01","v":3.6},{"s":"BL3","d":"2008-06-01","v":3.9},{"s":"BL3","d":"2011-06-01","v":3.95},{"s":"BL3","d":"2011-08-01","v":4.2},{"s":"BL3","d":"2012-07-01","v":4.2},{"s":"BL3","d":"2012-09-01","v":4.4},{"s":"BL3","d":"2014-08-01","v":4.3},{"s":"BL3","d":"2014-10-01","v":4.5},{"s":"BL3","d":"2014-12-01","v":4.5},

        {"s":"BK4","d":"1974-01-01","v":-6.3},{"s":"BK4","d":"1974-04-01","v":-5.0},{"s":"BK4","d":"1974-10-01","v":-3.9},{"s":"BK4","d":"1976-01-01","v":-2.9},{"s":"BK4","d":"1978-10-01","v":-1.95},{"s":"BK4","d":"1982-02-01","v":-1.45},{"s":"BK4","d":"1986-03-01","v":-0.6},{"s":"BK4","d":"1987-05-01","v":-0.45},{"s":"BK4","d":"1987-07-01","v":-0.05},{"s":"BK4","d":"1989-05-01","v":0.1},{"s":"BK4","d":"1989-07-01","v":0.55},{"s":"BK4","d":"1995-08-01","v":1.0},{"s":"BK4","d":"1995-10-01","v":1.4},{"s":"BK4","d":"2000-11-01","v":1.8},{"s":"BK4","d":"2001-01-01","v":2.3},{"s":"BK4","d":"2002-01-01","v":2.4},{"s":"BK4","d":"2002-03-01","v":2.8},{"s":"BK4","d":"2007-04-01","v":3.0},{"s":"BK4","d":"2007-06-01","v":3.3},{"s":"BK4","d":"2008-04-01","v":3.3},{"s":"BK4","d":"2008-06-01","v":3.6},{"s":"BK4","d":"2011-06-01","v":3.7},{"s":"BK4","d":"2011-08-01","v":4.0},{"s":"BK4","d":"2012-07-01","v":4.0},{"s":"BK4","d":"2012-09-01","v":4.2},{"s":"BK4","d":"2014-08-01","v":4.1},{"s":"BK4","d":"2014-10-01","v":4.3},{"s":"BK4","d":"2014-12-01","v":4.3}
      ]},
      "mark": {"type": "line", "strokeWidth": 2},
      "encoding": {
        "x": {
          "field": "d", "type": "temporal",
          "scale": {"type": "utc", "domain": [{"year": 1974, "month": 1, "date": 1, "utc": true}, {"year": 2015, "month": 7, "date": 15, "utc": true}]},
          "axis": {
            "title": null, "labels": false,
            "grid": true, "gridColor": "#000", "gridWidth": 1.5, "gridDash": [5, 356, 5, 3000],
            "values": [
              {"year":1975,"month":10,"date":1,"utc":true},{"year":1977,"month":6,"date":1,"utc":true},{"year":1979,"month":2,"date":1,"utc":true},{"year":1980,"month":10,"date":1,"utc":true},{"year":1982,"month":6,"date":1,"utc":true},{"year":1984,"month":2,"date":1,"utc":true},{"year":1985,"month":10,"date":1,"utc":true},{"year":1987,"month":6,"date":1,"utc":true},{"year":1989,"month":2,"date":1,"utc":true},{"year":1990,"month":10,"date":1,"utc":true},{"year":1992,"month":6,"date":1,"utc":true},{"year":1994,"month":2,"date":1,"utc":true},{"year":1995,"month":10,"date":1,"utc":true},{"year":1997,"month":6,"date":1,"utc":true},{"year":1999,"month":2,"date":1,"utc":true},{"year":2000,"month":10,"date":1,"utc":true},{"year":2002,"month":6,"date":1,"utc":true},{"year":2004,"month":2,"date":1,"utc":true},{"year":2005,"month":10,"date":1,"utc":true},{"year":2007,"month":6,"date":1,"utc":true},{"year":2009,"month":2,"date":1,"utc":true},{"year":2010,"month":10,"date":1,"utc":true},{"year":2012,"month":6,"date":1,"utc":true},{"year":2014,"month":2,"date":1,"utc":true}
            ]
          }
        },
        "y": {
          "field": "v", "type": "quantitative",
          "scale": {"domain": [-7, 27], "nice": false, "zero": false},
          "axis": {
            "title": "Piezometric head (m)",
            "titleFont": "Liberation Sans", "titleFontSize": 11.5, "titleFontWeight": "normal", "titleColor": "#222",
            "titlePadding": 29.75, "titleY": 165,
            "values": [-5, 0, 5, 10, 15, 20, 25],
            "labelExpr": "'' + datum.value",
            "labelFont": "DejaVu Sans", "labelFontSize": 13, "labelColor": "#222", "labelPadding": 15,
            "grid": true, "gridColor": "#000", "gridWidth": 1.5, "gridDash": [7, 953, 7, 3000]
          }
        },
        "color": {
          "field": "s", "type": "nominal", "legend": null,
          "scale": {
            "domain": ["BK4","BL3","OL2","GR3","PU2","MG3","GY3","BK3","DR3","RD2","GY2","MG2","BK2","GR2","BL2","BL1","BK1","DR2","PU","NV","RD1","GR1","MG","OL","DR1","G"],
            "range": ["#000000","#0000FF","#808000","#008000","#800000","#FF00FF","#909090","#000000","#800000","#FF0000","#A0A0A0","#FF00FF","#000000","#008000","#0000FF","#0000CC","#000000","#800000","#800080","#000080","#FF0000","#008000","#FF00FF","#808000","#800000","#808080"]
          }
        }
      }
    },
    {
      "columns": 1,
      "spacing": 20.5,
      "concat": [
        {
          "width": 967,
          "height": 359,
          "view": {"stroke": null},
          "data": {"values": [
            {"d":"1974-01-01","v":0},
            {"d":"1974-09-01","v":0},{"d":"1974-10-01","v":5},{"d":"1974-11-01","v":0},
            {"d":"1978-11-01","v":0},{"d":"1978-12-01","v":3},{"d":"1979-01-01","v":0},
            {"d":"1982-01-01","v":0},{"d":"1982-02-01","v":6},{"d":"1982-03-01","v":0},
            {"d":"1986-03-01","v":0},{"d":"1986-04-01","v":17},{"d":"1986-05-01","v":0},
            {"d":"1987-05-01","v":0},{"d":"1987-06-01","v":72},{"d":"1987-07-01","v":0},
            {"d":"1989-05-01","v":0},{"d":"1989-06-01","v":125},{"d":"1989-07-01","v":0},
            {"d":"1990-06-01","v":0},{"d":"1990-07-01","v":2},{"d":"1990-08-01","v":0},
            {"d":"1994-08-01","v":0},{"d":"1994-09-01","v":8},{"d":"1994-10-01","v":0},
            {"d":"1995-08-01","v":0},{"d":"1995-09-01","v":108},{"d":"1995-10-01","v":0},
            {"d":"2000-11-01","v":0},{"d":"2000-12-01","v":76},{"d":"2001-01-01","v":10},{"d":"2001-02-01","v":0},
            {"d":"2002-01-01","v":0},{"d":"2002-02-01","v":89},{"d":"2002-03-01","v":0},
            {"d":"2003-02-01","v":0},{"d":"2003-03-01","v":1},{"d":"2003-04-01","v":0},
            {"d":"2004-02-01","v":0},{"d":"2004-03-01","v":8},{"d":"2004-04-01","v":0},
            {"d":"2006-03-01","v":0},{"d":"2006-04-01","v":2},{"d":"2006-05-01","v":0},
            {"d":"2007-03-01","v":0},{"d":"2007-04-01","v":6},{"d":"2007-05-01","v":33},{"d":"2007-06-01","v":0},
            {"d":"2008-04-01","v":0},{"d":"2008-05-01","v":98},{"d":"2008-06-01","v":0},
            {"d":"2011-05-01","v":0},{"d":"2011-06-01","v":10},{"d":"2011-07-01","v":87},{"d":"2011-08-01","v":0},
            {"d":"2012-07-01","v":0},{"d":"2012-08-01","v":123},{"d":"2012-09-01","v":0},
            {"d":"2014-08-01","v":0},{"d":"2014-09-01","v":128},{"d":"2014-10-01","v":0},
            {"d":"2014-11-01","v":0}
          ]},
          "mark": {"type": "line", "color": "#0000E0", "strokeWidth": 2.5},
          "encoding": {
            "x": {
              "field": "d", "type": "temporal",
              "scale": {"type": "utc", "range": [24, 967], "domain": [{"year": 1974, "month": 1, "date": 1, "utc": true}, {"year": 2015, "month": 6, "date": 15, "utc": true}]},
              "axis": {
                "title": null, "labels": false, "offset": 14,
                "domain": true, "domainColor": "#000", "domainWidth": 2,
                "ticks": true, "tickSize": -7, "tickColor": "#000", "tickWidth": 2,
                "grid": true, "gridColor": "#000", "gridWidth": 2, "gridDash": [9, 3000],
                "values": [
                  {"year":1975,"month":10,"date":1,"utc":true},{"year":1977,"month":6,"date":1,"utc":true},{"year":1979,"month":2,"date":1,"utc":true},{"year":1980,"month":10,"date":1,"utc":true},{"year":1982,"month":6,"date":1,"utc":true},{"year":1984,"month":2,"date":1,"utc":true},{"year":1985,"month":10,"date":1,"utc":true},{"year":1987,"month":6,"date":1,"utc":true},{"year":1989,"month":2,"date":1,"utc":true},{"year":1990,"month":10,"date":1,"utc":true},{"year":1992,"month":6,"date":1,"utc":true},{"year":1994,"month":2,"date":1,"utc":true},{"year":1995,"month":10,"date":1,"utc":true},{"year":1997,"month":6,"date":1,"utc":true},{"year":1999,"month":2,"date":1,"utc":true},{"year":2000,"month":10,"date":1,"utc":true},{"year":2002,"month":6,"date":1,"utc":true},{"year":2004,"month":2,"date":1,"utc":true},{"year":2005,"month":10,"date":1,"utc":true},{"year":2007,"month":6,"date":1,"utc":true},{"year":2009,"month":2,"date":1,"utc":true},{"year":2010,"month":10,"date":1,"utc":true},{"year":2012,"month":6,"date":1,"utc":true},{"year":2014,"month":2,"date":1,"utc":true}
                ]
              }
            },
            "y": {
              "field": "v", "type": "quantitative",
              "scale": {"domain": [0, 140], "nice": false},
              "axis": {
                "title": "Recharge(mm)", "offset": -24,
                "domain": true, "domainColor": "#000", "domainWidth": 2,
                "titleFont": "Liberation Sans", "titleFontSize": 20, "titleFontWeight": "normal", "titleColor": "#111", "titlePadding": 27.6,
                "values": [0, 20, 40, 60, 80, 100, 120, 140],
                "labelFont": "Liberation Sans", "labelFontSize": 20, "labelColor": "#111", "labelPadding": 22,
                "grid": true, "gridColor": "#000", "gridWidth": 2,
                "gridDash": {"condition": {"test": "datum.value == 140", "value": []}, "value": [9, 925, 9, 3000]}
              }
            }
          }
        },
        {
          "width": 967,
          "height": 294,
          "view": {"stroke": null},
          "data": {"values": [
            {"d":"1974-01-31","v":1250},{"d":"1974-02-28","v":1670},
            {"d":"1974-12-31","v":1670},{"d":"1975-01-31","v":2250},
            {"d":"1976-12-31","v":2250},{"d":"1977-01-31","v":2500},
            {"d":"1978-12-31","v":2500},{"d":"1979-01-31","v":2740},
            {"d":"1979-12-31","v":2740},{"d":"1980-01-31","v":2810},
            {"d":"1980-12-31","v":2810},{"d":"1981-01-31","v":2990},
            {"d":"1981-12-31","v":2990},{"d":"1982-01-31","v":3250},
            {"d":"1982-12-31","v":3250},{"d":"1983-01-31","v":3390},
            {"d":"1988-12-31","v":3390},{"d":"1989-01-31","v":4890},
            {"d":"1989-12-31","v":4890},{"d":"1990-01-31","v":5100},
            {"d":"1993-12-31","v":5100},{"d":"1994-01-31","v":5375},
            {"d":"1997-12-31","v":5375},{"d":"1998-01-31","v":5825},
            {"d":"2003-12-31","v":5825},{"d":"2004-01-31","v":6010},
            {"d":"2011-12-31","v":6010},{"d":"2012-01-31","v":6130},
            {"d":"2013-01-31","v":6130}
          ]},
          "mark": {"type": "line", "color": "#7A0000", "strokeWidth": 2.5},
          "encoding": {
            "x": {
              "field": "d", "type": "temporal",
              "scale": {"type": "utc", "range": [34, 961], "domain": [{"year": 1974, "month": 1, "date": 23, "utc": true}, {"year": 2013, "month": 9, "date": 10, "utc": true}]},
              "axis": {
                "title": "Date", "titleFont": "DejaVu Sans", "titleFontSize": 12, "titleFontWeight": "normal", "titleColor": "#333", "titlePadding": 11,
                "labelExpr": "utcdate(datum.value) == 31 ? utcFormat(datum.value, '%d/%m/%Y') : ''",
                "labelAngle": 270, "labelFont": "Liberation Sans", "labelFontSize": 9, "labelColor": "#222", "labelPadding": 8,
                "grid": true, "gridColor": "#000", "gridWidth": 2,
                "gridDash": {"condition": {"test": "utcdate(datum.value) == 23 || utcdate(datum.value) == 10", "value": []}, "value": [6, 282, 6, 3000]},
                "gridOpacity": {"condition": {"test": "utcdate(datum.value) != 31", "value": 1}, "value": 0},
                "values": [
                  {"year":1974,"month":1,"date":23,"utc":true},{"year":2013,"month":9,"date":10,"utc":true},
                  {"year":1974,"month":1,"date":31,"utc":true},{"year":1975,"month":1,"date":31,"utc":true},{"year":1976,"month":1,"date":31,"utc":true},{"year":1977,"month":1,"date":31,"utc":true},{"year":1978,"month":1,"date":31,"utc":true},{"year":1979,"month":1,"date":31,"utc":true},{"year":1980,"month":1,"date":31,"utc":true},{"year":1981,"month":1,"date":31,"utc":true},{"year":1982,"month":1,"date":31,"utc":true},{"year":1983,"month":1,"date":31,"utc":true},{"year":1984,"month":1,"date":31,"utc":true},{"year":1985,"month":1,"date":31,"utc":true},{"year":1986,"month":1,"date":31,"utc":true},{"year":1987,"month":1,"date":31,"utc":true},{"year":1988,"month":1,"date":31,"utc":true},{"year":1989,"month":1,"date":31,"utc":true},{"year":1990,"month":1,"date":31,"utc":true},{"year":1991,"month":1,"date":31,"utc":true},{"year":1992,"month":1,"date":31,"utc":true},{"year":1993,"month":1,"date":31,"utc":true},{"year":1994,"month":1,"date":31,"utc":true},{"year":1995,"month":1,"date":31,"utc":true},{"year":1996,"month":1,"date":31,"utc":true},{"year":1997,"month":1,"date":31,"utc":true},{"year":1998,"month":1,"date":31,"utc":true},{"year":1999,"month":1,"date":31,"utc":true},{"year":2000,"month":1,"date":31,"utc":true},{"year":2001,"month":1,"date":31,"utc":true},{"year":2002,"month":1,"date":31,"utc":true},{"year":2003,"month":1,"date":31,"utc":true},{"year":2004,"month":1,"date":31,"utc":true},{"year":2005,"month":1,"date":31,"utc":true},{"year":2006,"month":1,"date":31,"utc":true},{"year":2007,"month":1,"date":31,"utc":true},{"year":2008,"month":1,"date":31,"utc":true},{"year":2009,"month":1,"date":31,"utc":true},{"year":2010,"month":1,"date":31,"utc":true},{"year":2011,"month":1,"date":31,"utc":true},{"year":2012,"month":1,"date":31,"utc":true},
                  {"year":1975,"month":2,"date":17,"utc":true},{"year":1976,"month":10,"date":17,"utc":true},{"year":1978,"month":6,"date":17,"utc":true},{"year":1980,"month":2,"date":17,"utc":true},{"year":1981,"month":10,"date":17,"utc":true},{"year":1983,"month":6,"date":17,"utc":true},{"year":1985,"month":2,"date":17,"utc":true},{"year":1986,"month":10,"date":17,"utc":true},{"year":1988,"month":6,"date":17,"utc":true},{"year":1990,"month":2,"date":17,"utc":true},{"year":1991,"month":10,"date":17,"utc":true},{"year":1993,"month":6,"date":17,"utc":true},{"year":1995,"month":2,"date":17,"utc":true},{"year":1996,"month":10,"date":17,"utc":true},{"year":1998,"month":6,"date":17,"utc":true},{"year":2000,"month":2,"date":17,"utc":true},{"year":2001,"month":10,"date":17,"utc":true},{"year":2003,"month":6,"date":17,"utc":true},{"year":2005,"month":2,"date":17,"utc":true},{"year":2006,"month":10,"date":17,"utc":true},{"year":2008,"month":6,"date":17,"utc":true},{"year":2010,"month":2,"date":17,"utc":true},{"year":2011,"month":10,"date":17,"utc":true},{"year":2013,"month":6,"date":17,"utc":true}
                ]
              }
            },
            "y": {
              "field": "v", "type": "quantitative",
              "scale": {"domain": [1000, 7000], "nice": false, "zero": false},
              "axis": {
                "title": "Pumping (m3/d)", "offset": -34,
                "titleFont": "Liberation Sans", "titleFontSize": 9.5, "titleFontWeight": "normal", "titleColor": "#222",
                "titlePadding": 30.15,
                "values": [1000, 2000, 3000, 4000, 5000, 6000, 7000],
                "labelExpr": "'' + datum.value",
                "labelFont": "DejaVu Sans", "labelFontSize": 13, "labelColor": "#333", "labelPadding": 19,
                "grid": true, "gridColor": "#000", "gridWidth": 2,
                "gridDash": {"condition": {"test": "datum.value == 1000 || datum.value == 7000", "value": []}, "value": [0, 921, 6, 3000]}
              }
            }
          }
        }
      ]
    }
  ]
}
